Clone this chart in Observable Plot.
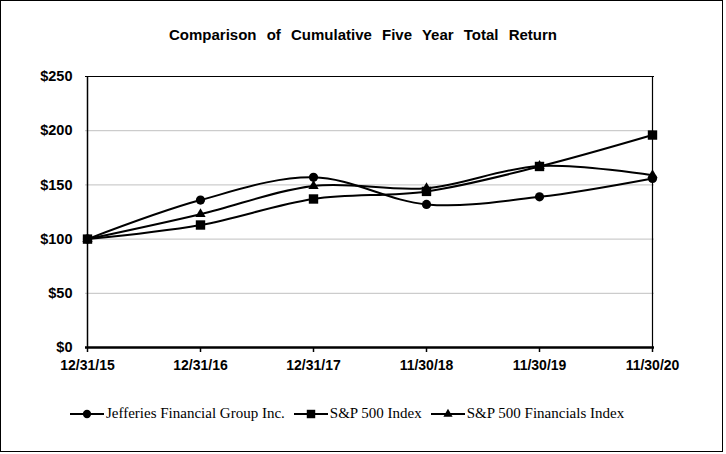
<!DOCTYPE html>
<html><head><meta charset="utf-8">
<script src="https://cdn.jsdelivr.net/npm/d3@7"></script>
<script src="https://cdn.jsdelivr.net/npm/@observablehq/plot@0.6"></script>
<style>
body{margin:0;background:#fff}
#wrap{position:relative;width:726px;height:454px;overflow:hidden;background:#fff}
#border{position:absolute;left:0;top:0;width:721px;height:450px;border:1.5px solid #000;pointer-events:none}
#title{position:absolute;left:0;top:27px;width:726px;text-align:center;font:bold 15px "Liberation Sans",Arial,sans-serif;line-height:15px;word-spacing:6px;color:#000}
#chart{position:absolute;left:0;top:0}
#legend{position:absolute;left:70px;top:405px;display:flex;align-items:center;font:15px "Liberation Serif","Times New Roman",serif;color:#000;white-space:nowrap}
#legend .item{display:flex;align-items:center;margin-right:9px}
#legend svg{display:block;margin-right:2px}
</style></head>
<body>
<div id="wrap">
  <div id="chart"></div>
  <div id="title">Comparison of Cumulative Five Year Total Return</div>
  <div id="legend"></div>
  <div id="border"></div>
</div>
<script>
const dates = ["12/31/15","12/31/16","12/31/17","11/30/18","11/30/19","11/30/20"];
const jefferies = [100,136,157,132,139,156];
const sp500 = [100,113,137,144,167,196];
const spFinancials = [100,123,149,147,167.5,159];
const seriesNames = ["Jefferies Financial Group Inc.","S&P 500 Index","S&P 500 Financials Index"];
const seriesSymbols = ["circle","square","triangle"];
const yTicks = [0,50,100,150,200,250];

const seriesValues = [jefferies, sp500, spFinancials];
const data = seriesValues.flatMap((vals, i) => vals.map((v, j) => ({series: seriesNames[i], date: dates[j], value: v})));
const bySeries = name => data.filter(d => d.series === name);
const symR = {circle: 4.6, square: 5.3, triangle: 3.8};

const chart = Plot.plot({
  width: 726, height: 454,
  marginLeft: 85, marginRight: 72, marginTop: 76, marginBottom: 107,
  style: {fontFamily: "'Liberation Sans', Arial, sans-serif", background: "transparent", color: "#000"},
  x: {type: "point", domain: dates, padding: 0},
  y: {domain: [0, 250]},
  marks: [
    Plot.ruleY(yTicks.filter(t => t > 0 && t < 250), {stroke: "#c0c0c0", strokeWidth: 1}),
    Plot.ruleY([250], {stroke: "#000", strokeWidth: 1.2}),
    Plot.ruleX([dates[dates.length - 1]], {stroke: "#000", strokeWidth: 1.2}),
    Plot.ruleX([dates[0]], {stroke: "#000", strokeWidth: 1.5}),
    Plot.axisY({ticks: yTicks, tickSize: 0, tickPadding: 13, tickFormat: d => "$" + d, fontSize: 14.5, fontWeight: "bold", label: null}),
    Plot.axisX({tickSize: 5, tickPadding: 8, fontSize: 14, fontWeight: "bold", label: null, strokeWidth: 1.5}),
    Plot.ruleY([0], {stroke: "#000", strokeWidth: 2.6}),
    Plot.line(data, {x: "date", y: "value", z: "series", curve: "cardinal", stroke: "#000", strokeWidth: 2}),
    Plot.dot(bySeries(seriesNames[2]), {x: "date", y: "value", symbol: seriesSymbols[2], r: symR.triangle, fill: "#000", stroke: "none"}),
    Plot.dot(bySeries(seriesNames[1]), {x: "date", y: "value", symbol: seriesSymbols[1], r: symR.square, fill: "#000", stroke: "none"}),
    Plot.dot(bySeries(seriesNames[0]), {x: "date", y: "value", symbol: seriesSymbols[0], r: symR.circle, fill: "#000", stroke: "none"})
  ]
});
document.getElementById("chart").appendChild(chart);

const symbolTypes = {circle: d3.symbolCircle, square: d3.symbolSquare, triangle: d3.symbolTriangle};
const legend = d3.select("#legend");
seriesNames.forEach((name, i) => {
  const item = legend.append("div").attr("class", "item");
  const svg = item.append("svg").attr("width", 34).attr("height", 14);
  svg.append("line").attr("x1", 0).attr("x2", 34).attr("y1", 7).attr("y2", 7).attr("stroke", "#000").attr("stroke-width", 2);
  const r = symR[seriesSymbols[i]] * 0.9;
  svg.append("path").attr("transform", "translate(17,7)")
    .attr("d", d3.symbol(symbolTypes[seriesSymbols[i]], Math.PI * r * r)()).attr("fill", "#000");
  item.append("span").text(name);
});
</script>
</body></html>
